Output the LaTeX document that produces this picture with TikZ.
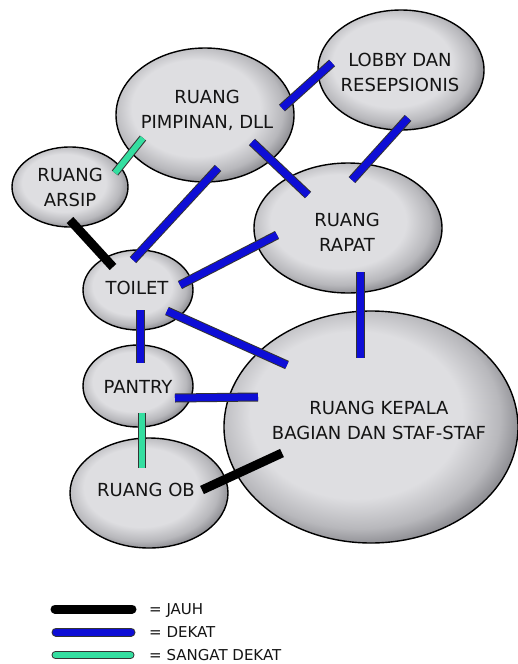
\documentclass[tikz,border=0pt]{standalone}
\usepackage{fontspec}
\setmainfont{DejaVu Sans}
\usepackage{xcolor}
\usetikzlibrary{shapes.geometric}

\definecolor{dekatblue}{RGB}{14,14,214}
\definecolor{sangatgreen}{RGB}{52,222,160}
\definecolor{roomlight}{RGB}{222,222,225}
\definecolor{roomdark}{RGB}{145,145,150}
\pgfdeclareradialshading{roomshade}{\pgfpoint{-4bp}{4bp}}{color(0bp)=(roomlight); color(18bp)=(roomlight); color(24bp)=(roomdark!50!roomlight); color(27bp)=(roomdark); color(50bp)=(roomdark)}

\begin{document}
\begin{tikzpicture}[x=1pt, y=-1pt,
  room/.style={ellipse, draw=black, line width=1.4pt, shade, shading=roomshade},
  roomtext/.style={align=center, inner sep=0pt, text=black!92, font=\fontsize{18}{25}\selectfont},
  jauh/.style={line width=9pt, black},
  dekat/.style={draw=black!80, line width=1pt, double=dekatblue, double distance=7pt},
  sangat/.style={draw=black!80, line width=1pt, double=sangatgreen, double distance=6pt},
  legendtext/.style={anchor=west, inner sep=0pt, text depth=0pt, text=black!92, font=\fontsize{15}{18}\selectfont}]
\useasboundingbox (0,0) rectangle (518,664);

% rooms
\node[room, minimum width=178pt, minimum height=134pt] (pim)    at (205,115) {};
\node[room, minimum width=166pt, minimum height=120pt] (lobby)  at (401,70)  {};
\node[room, minimum width=116pt, minimum height=80pt]  (arsip)  at (70,187)  {};
\node[room, minimum width=188pt, minimum height=130pt] (rapat)  at (348,228) {};
\node[room, minimum width=110pt, minimum height=80pt]  (toilet) at (138,290) {};
\node[room, minimum width=110pt, minimum height=82pt]  (pantry) at (138,386) {};
\node[room, minimum width=294pt, minimum height=232pt] (kepala) at (371,427) {};
\node[room, minimum width=158pt, minimum height=110pt] (ob)     at (149,493) {};

\node[roomtext] (pim-t)    at (207,110) {RUANG\\PIMPINAN, DLL};
\node[roomtext] (lobby-t)  at (400,72)  {LOBBY DAN\\RESEPSIONIS};
\node[roomtext] (arsip-t)  at (70,187)  {RUANG\\ARSIP};
\node[roomtext] (rapat-t)  at (347,232) {RUANG\\RAPAT};
\node[roomtext] (toilet-t) at (137,288) {TOILET};
\node[roomtext] (pantry-t) at (138,387) {PANTRY};
\node[roomtext] (kepala-t) at (379,420) {RUANG KEPALA\\BAGIAN DAN STAF-STAF};
\node[roomtext] (ob-t)     at (146,490) {RUANG OB};

% relations
\draw[sangat] ([shift={(-62,23)}]pim.center)   -- ([shift={(45,-14)}]arsip.center);
\draw[dekat]  ([shift={(-69,-7)}]lobby.center) -- ([shift={(77,-7)}]pim.center);
\draw[dekat]  ([shift={(7,48)}]lobby.center)   -- ([shift={(4,-48)}]rapat.center);
\draw[dekat]  ([shift={(47,27)}]pim.center)    -- ([shift={(-40,-33)}]rapat.center);
\draw[dekat]  ([shift={(13,53)}]pim.center)    -- ([shift={(-5,-30)}]toilet.center);
\draw[jauh]   ([shift={(0,33)}]arsip.center)   -- ([shift={(-25,-23)}]toilet.center);
\draw[dekat]  ([shift={(42,-5)}]toilet.center) -- ([shift={(-71,7)}]rapat.center);
\draw[dekat]  ([shift={(12,44)}]rapat.center)  -- ([shift={(-11,-69)}]kepala.center);
\draw[dekat]  ([shift={(29,21)}]toilet.center) -- ([shift={(-84,-62)}]kepala.center);
\draw[dekat]  ([shift={(2,20)}]toilet.center)  -- ([shift={(2,-23)}]pantry.center);
\draw[dekat]  ([shift={(37,12)}]pantry.center) -- ([shift={(-113,-30)}]kepala.center);
\draw[sangat] ([shift={(4,27)}]pantry.center)  -- ([shift={(-7,-25)}]ob.center);
\draw[jauh]   ([shift={(53,-3)}]ob.center)     -- ([shift={(-89,26)}]kepala.center);

% legend
\node[legendtext] (legjauh)   at (149,609) {= JAUH};
\node[legendtext] (legdekat)  at (149,632) {= DEKAT};
\node[legendtext] (legsangat) at (149,655) {= SANGAT DEKAT};
\draw[jauh, line cap=round]   ([xshift=-94pt]legjauh.west)     -- ([xshift=-17pt]legjauh.west);
\draw[dekat, line cap=round]  ([xshift=-93pt]legdekat.west)    -- ([xshift=-18pt]legdekat.west);
\draw[sangat, line cap=round] ([xshift=-93.5pt]legsangat.west) -- ([xshift=-18.5pt]legsangat.west);
\end{tikzpicture}
\end{document}
